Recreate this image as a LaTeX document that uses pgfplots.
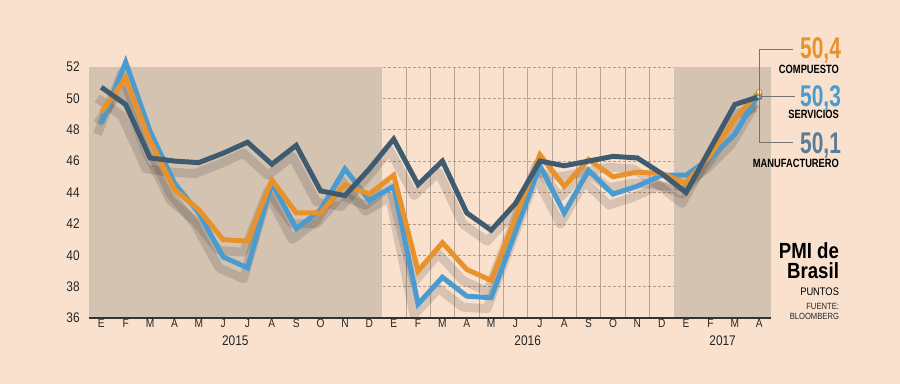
\documentclass[border=0pt]{standalone}
\usepackage{fontspec}
\setmainfont{Liberation Sans}[FakeStretch=0.85]
\newfontfamily\numfont{Liberation Sans}[FakeStretch=0.70]
\newfontfamily\labfont{Liberation Sans}[FakeStretch=0.78]
\usepackage{pgfplots}
\usepackage{pgfplotstable}
\pgfplotsset{compat=1.18}
\definecolor{bg}{HTML}{F9E1CE}
\definecolor{tanshade}{HTML}{D5C3B1}
\definecolor{corange}{HTML}{E8922B}
\definecolor{cblue}{HTML}{4A9BD0}
\definecolor{cdark}{HTML}{3F5B70}
\definecolor{cdarklab}{HTML}{5A7D99}
\definecolor{gridc}{HTML}{9C8C7E}
\pgfplotstableread{
m man ser com
0 50.7 48.4 49.1
1 49.6 52.3 51.3
2 46.2 47.9 47.3
3 46.0 44.6 44.2
4 45.9 42.7 42.9
5 46.5 39.9 41.0
6 47.2 39.2 40.9
7 45.8 44.6 44.8
8 47.0 41.7 42.7
9 44.1 42.9 42.7
10 43.8 45.5 44.5
11 45.5 43.5 43.9
12 47.4 44.4 45.1
13 44.5 36.9 39.0
14 46.0 38.6 40.8
15 42.7 37.4 39.1
16 41.6 37.3 38.4
17 43.3 41.5 42.4
18 46.0 45.7 46.4
19 45.7 42.7 44.4
20 46.0 45.4 46.1
21 46.3 43.9 45.0
22 46.2 44.4 45.3
23 45.2 45.1 45.2
24 44.0 45.1 44.6
25 46.8 46.2 46.4
26 49.6 47.7 48.7
27 50.1 50.3 50.4
}\data
\begin{document}
\pagecolor{bg}
\begin{tikzpicture}
\path (0,0) rectangle (900pt,385pt);
\begin{axis}[
  set layers,
  at={(87pt,66pt)}, anchor=south west,
  scale only axis, width=684pt, height=252pt,
  xmin=-0.5, xmax=27.5, ymin=36, ymax=52,
  axis line style={draw=none},
  clip=false,
  ytick={36,38,...,52},
  xtick={0,...,27},
  xticklabels={E,F,M,A,M,J,J,A,S,O,N,D,E,F,M,A,M,J,J,A,S,O,N,D,E,F,M,A},
  minor xtick={0.5,1.5,...,26.5},
  xminorgrids, ymajorgrids,
  major tick length=0pt, minor tick length=0pt,
  major grid style={gridc, densely dashed, line width=0.5pt, opacity=0.8},
  minor grid style={gridc, line width=0.7pt, opacity=0.7},
  /pgf/number format/assume math mode=true,
  yticklabel style={font=\fontsize{14}{14}\selectfont, anchor=east, xshift=-6pt, text=black!85},
  xticklabel style={font=\fontsize{12}{12}\selectfont, anchor=center, yshift=-5pt, text=black!85},
]
\fill[tanshade, on layer=axis background] (-0.5,36) rectangle (11.5,52);
\fill[tanshade, on layer=axis background] (23.5,36) rectangle (27.5,52);
% shadows
\addplot[black, opacity=0.13, line width=9pt, xshift=-4pt, yshift=-11pt, line join=round] table[x=m,y=ser]{\data};
\addplot[black, opacity=0.13, line width=9pt, xshift=-4pt, yshift=-11pt, line join=round] table[x=m,y=com]{\data};
\addplot[black, opacity=0.13, line width=9pt, xshift=-4pt, yshift=-11pt, line join=round] table[x=m,y=man]{\data};
% lines
\addplot[cblue, line width=5pt, miter limit=3] table[x=m,y=ser]{\data};
\addplot[corange, line width=5pt, miter limit=3] table[x=m,y=com]{\data};
\addplot[cdark, line width=5pt, miter limit=3] table[x=m,y=man]{\data};
\draw[black!80, line width=1.6pt] (-0.5,36) -- (27.5,36);
% markers
\addplot[only marks, mark=*, mark size=2.6pt, mark options={fill=white, draw=cdark, line width=1.2pt}] coordinates {(27,50.1)};
\addplot[only marks, mark=*, mark size=2.6pt, mark options={fill=white, draw=cblue, line width=1.2pt}] coordinates {(27,50.3)};
\addplot[only marks, mark=*, mark size=2.6pt, mark options={fill=white, draw=corange, line width=1.2pt}] coordinates {(27,50.4)};
% years
\node[font=\fontsize{14}{14}\selectfont, text=black!85] at (5.5,36) [yshift=-23pt] {2015};
\node[font=\fontsize{14}{14}\selectfont, text=black!85] at (17.5,36) [yshift=-23pt] {2016};
\node[font=\fontsize{14}{14}\selectfont, text=black!85] at (25.5,36) [yshift=-23pt] {2017};
\end{axis}
% leader lines
\draw[black!55, line width=0.8pt] (793pt,335pt) -- (759pt,335pt) -- (759pt,242pt) -- (793pt,242pt);
\draw[black!55, line width=0.8pt] (759pt,288pt) -- (795pt,288pt);
% annotations
\node[anchor=east, inner sep=0pt, text=corange, font=\numfont\bfseries\fontsize{30}{30}\selectfont] at (841pt,334pt) {50,4};
\node[anchor=east, inner sep=0pt, font=\labfont\bfseries\fontsize{12}{12}\selectfont] at (839pt,315pt) {COMPUESTO};
\node[anchor=east, inner sep=0pt, text=cblue, font=\numfont\bfseries\fontsize{30}{30}\selectfont] at (841pt,286pt) {50,3};
\node[anchor=east, inner sep=0pt, font=\labfont\bfseries\fontsize{12}{12}\selectfont] at (839pt,270pt) {SERVICIOS};
\node[anchor=east, inner sep=0pt, text=cdarklab, font=\numfont\bfseries\fontsize{30}{30}\selectfont] at (841pt,239pt) {50,1};
\node[anchor=east, inner sep=0pt, font=\labfont\bfseries\fontsize{12}{12}\selectfont] at (839pt,221pt) {MANUFACTURERO};
\node[anchor=north east, inner sep=0pt, align=right, font=\bfseries\fontsize{22}{20}\selectfont] at (839pt,142pt) {PMI de\\Brasil};
\node[anchor=east, inner sep=0pt, font=\fontsize{11}{11}\selectfont] at (839pt,93pt) {PUNTOS};
\node[anchor=east, inner sep=0pt, font=\fontsize{9}{9}\selectfont, text=black!85] at (839pt,78pt) {FUENTE:};
\node[anchor=east, inner sep=0pt, font=\fontsize{9}{9}\selectfont, text=black!85] at (839pt,68pt) {BLOOMBERG};
\end{tikzpicture}
\end{document}
